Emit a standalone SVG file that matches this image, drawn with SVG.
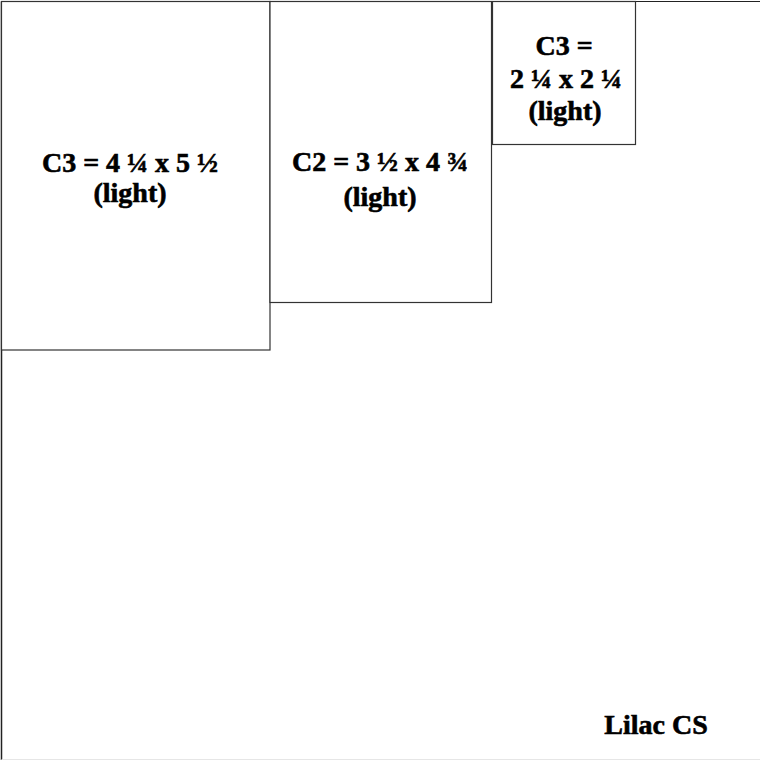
<svg xmlns="http://www.w3.org/2000/svg" width="760" height="761" viewBox="0 0 760 761">
<style>
.box{fill:#fff;stroke:#333;stroke-width:1.2}
.t{font-weight:700;font-size:28px;fill:#000;stroke:#000;stroke-width:0.6;text-anchor:middle}
</style>
<rect width="760" height="761" fill="#fff"/>
<g id="frame">
<line x1="1.5" y1="1.5" x2="760" y2="1.5" stroke="#222" stroke-width="1.2"/>
<line x1="1.5" y1="1.5" x2="1.5" y2="760" stroke="#222" stroke-width="1.5"/>
<line x1="1.5" y1="759.5" x2="760" y2="759.5" stroke="#e6e6e6" stroke-width="1"/>
</g>
<g id="node-c3-large" font-family="'Liberation Serif', 'Times New Roman', serif">
<rect class="box" x="1.5" y="1.5" width="268.5" height="348.5"/>
<text class="t" x="130" y="172">C3 = 4 ¼ x 5 ½</text>
<text class="t" x="130" y="202">(light)</text>
</g>
<g id="node-c2" font-family="'Liberation Serif', 'Times New Roman', serif">
<rect class="box" x="270" y="1.5" width="221.5" height="301"/>
<text class="t" x="380" y="171">C2 = 3 ½ x 4 ¾</text>
<text class="t" x="380" y="206">(light)</text>
</g>
<g id="node-c3-small" font-family="'Liberation Serif', 'Times New Roman', serif">
<rect class="box" x="492.5" y="1.5" width="143" height="143"/>
<text class="t" x="564" y="55">C3 =</text>
<text class="t" x="566" y="88">2 ¼ x 2 ¼</text>
<text class="t" x="565" y="120">(light)</text>
</g>
<g id="connectors"></g>
<g id="label" font-family="'Liberation Serif', 'Times New Roman', serif">
<text class="t" x="656" y="734">Lilac CS</text>
</g>
</svg>
